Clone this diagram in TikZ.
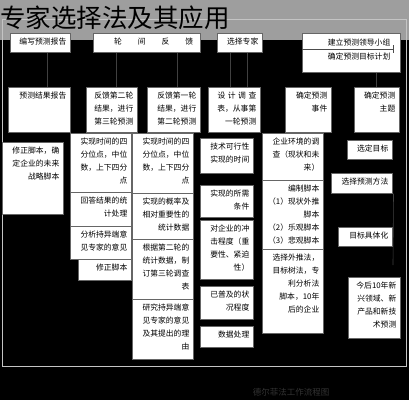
\documentclass[tikz,border=0pt]{standalone}
\usepackage{fontspec}
\setmainfont{Noto Sans CJK SC}
\definecolor{band}{HTML}{9E9E9E}
\definecolor{frameline}{HTML}{C4C4C4}
\newcommand{\flowbox}[6]{%
  \node[box,minimum width=#4pt,minimum height=#5pt] (#1) at (#2,#3) {};
  \node[txt] (#1t) at ([xshift=-4pt,yshift=-5pt]#1.north east) {#6};%
}
\begin{document}
\begin{tikzpicture}[x=1pt,y=-1pt,
    box/.style={draw=black!60,fill=white,anchor=north west,inner sep=0pt,line width=0.5pt},
    txt/.style={anchor=north east,align=right,inner sep=0pt,font=\fontsize{7.8}{13}\selectfont},
    link/.style={draw=black!75,line width=0.6pt}]
    %% background
    \useasboundingbox (0,0) rectangle (409,400);
    \fill[black] (0,0) rectangle (409,400);
    \fill[band] (0,0) rectangle (409,40);
    \draw[frameline,line width=0.8pt] (2,19) rectangle (406,366);
    %% top row
    \flowbox{B1}{10}{33}{60}{19}{编写预测报告}
    \node[box,minimum width=107pt,minimum height=19pt] (B2) at (93,33) {};
    \node[txt] (B2t) at ([xshift=-7pt,yshift=-5pt]B2.north east) {轮\hspace{16pt}间\hspace{16pt}反\hspace{16pt}馈};
    \flowbox{B3}{217}{33}{45}{19}{选择专家}
    \node[box,minimum width=98pt,minimum height=39pt] (B4) at (302,33) {};
    \node[txt,font=\fontsize{7.8}{14}\selectfont] (B4t) at ([xshift=-10pt,yshift=-6pt]B4.north east) {建立预测领导小组\\确定预测目标计划};
    \draw[black!70] ([yshift=-16pt]B4.north west) -- ([xshift=-7pt,yshift=-16pt]B4.north east);
    \draw[black!70] ([xshift=-7pt,yshift=-12pt]B4.north east) -- ([xshift=-7pt,yshift=-20pt]B4.north east);
    %% second row
    \flowbox{R2a}{8}{87}{62}{45}{预测结果报告}
    \flowbox{R2b}{86}{87}{51}{45}{反馈第二轮\\结果，进行\\第三轮预测}
    \flowbox{R2c}{147}{87}{53}{45}{反馈第一轮\\结果，进行\\第二轮预测}
    \flowbox{R2d}{208}{87}{52}{45}{设\hspace{2.5pt}计\hspace{2.5pt}调\hspace{2.5pt}查\\表，从事第\\一轮预测}
    \flowbox{R2e}{285}{87}{46}{45}{确定预测\\事件}
    \flowbox{R2f}{354}{87}{45}{45}{确定预测\\主题}
    %% links between rows
    \draw[link] ([xshift=7pt]B1.south) -- ([xshift=7pt]B1.south |- R2a.north);
    \draw[link] ([xshift=5pt]R2b.north |- B2.south) -- ([xshift=5pt]R2b.north);
    \draw[link] ([xshift=4pt]R2c.north |- B2.south) -- ([xshift=4pt]R2c.north);
    \draw[link] ([xshift=-4pt]R2d.north |- B3.south) -- ([xshift=-4pt]R2d.north);
    \draw[link] ([xshift=13pt]R2d.north |- B3.south) -- ([xshift=13pt]R2d.north);
    \draw[link] (R2f.north |- B4.south) -- (R2f.north);
    %% left column
    \flowbox{L1}{2}{142}{61}{72}{修正脚本，确\\定企业的未来\\战略脚本}
    %% second column
    \flowbox{C2a}{70}{133}{61}{59}{实现时间的四\\分位点，中位\\数，上下四分\\点}
    \flowbox{C2b}{70}{192}{61}{34}{回答结果的统\\计处理}
    \flowbox{C2c}{70}{226}{61}{33}{分析持异端意\\见专家的意见}
    \flowbox{C2d}{78}{259}{53}{21}{修正脚本}
    %% third column
    \flowbox{C3a}{132}{133}{61}{60}{实现时间的四\\分位点，中位\\数，上下四分\\点}
    \flowbox{C3b}{132}{193}{61}{46}{实现的概率及\\相对重要性的\\统计数据}
    \flowbox{C3c}{132}{239}{61}{60}{根据第二轮的\\统计数据，制\\订第三轮调查\\表}
    \flowbox{C3d}{132}{299}{61}{60}{研究持异端意\\见专家的意见\\及其提出的理\\由}
    %% fourth column
    \flowbox{C4a}{200}{138}{53}{35}{技术可行性\\实现的时间}
    \flowbox{C4b}{200}{185}{53}{32}{实现的所需\\条件}
    \flowbox{C4c}{200}{220}{53}{59}{对企业的冲\\击程度（重\\要性、紧迫\\性）}
    \flowbox{C4d}{200}{286}{53}{33}{已普及的状\\况程度}
    \flowbox{C4e}{200}{326}{53}{21}{数据处理}
    %% fifth column
    \flowbox{C5a}{262}{133}{61}{47}{企业环境的调\\查（现状和未\\来）}
    \flowbox{C5b}{262}{180}{61}{69}{编制脚本\\（1）现状外推\\脚本\\（2）乐观脚本\\（3）悲观脚本}
    \flowbox{C5c}{262}{249}{61}{84}{选择外推法，\\目标树法，专\\利分析法\\脚本，10年\\后的企业}
    %% right column
    \flowbox{D1}{347}{140}{45}{19}{选定目标}
    \flowbox{D2}{331}{173}{61}{20}{选择预测方法}
    \flowbox{D3}{338}{227}{54}{19}{目标具体化}
    \flowbox{D4}{348}{277}{52}{61}{今后10年新\\兴领域、新\\产品和新技\\术预测}
    \coordinate (D2end) at (393,265);
    \draw[link] ([xshift=1pt]D2.south east) -- (D2end);
    %% title and caption
    \node[anchor=west,inner sep=0pt,font=\fontsize{25.5}{26}\selectfont] (title) at (0,18) {专家选择法及其应用};
    \node[font=\fontsize{8.5}{10}\selectfont,text=black!80] (caption) at (291,392) {德尔菲法工作流程图};
\end{tikzpicture}
\end{document}
